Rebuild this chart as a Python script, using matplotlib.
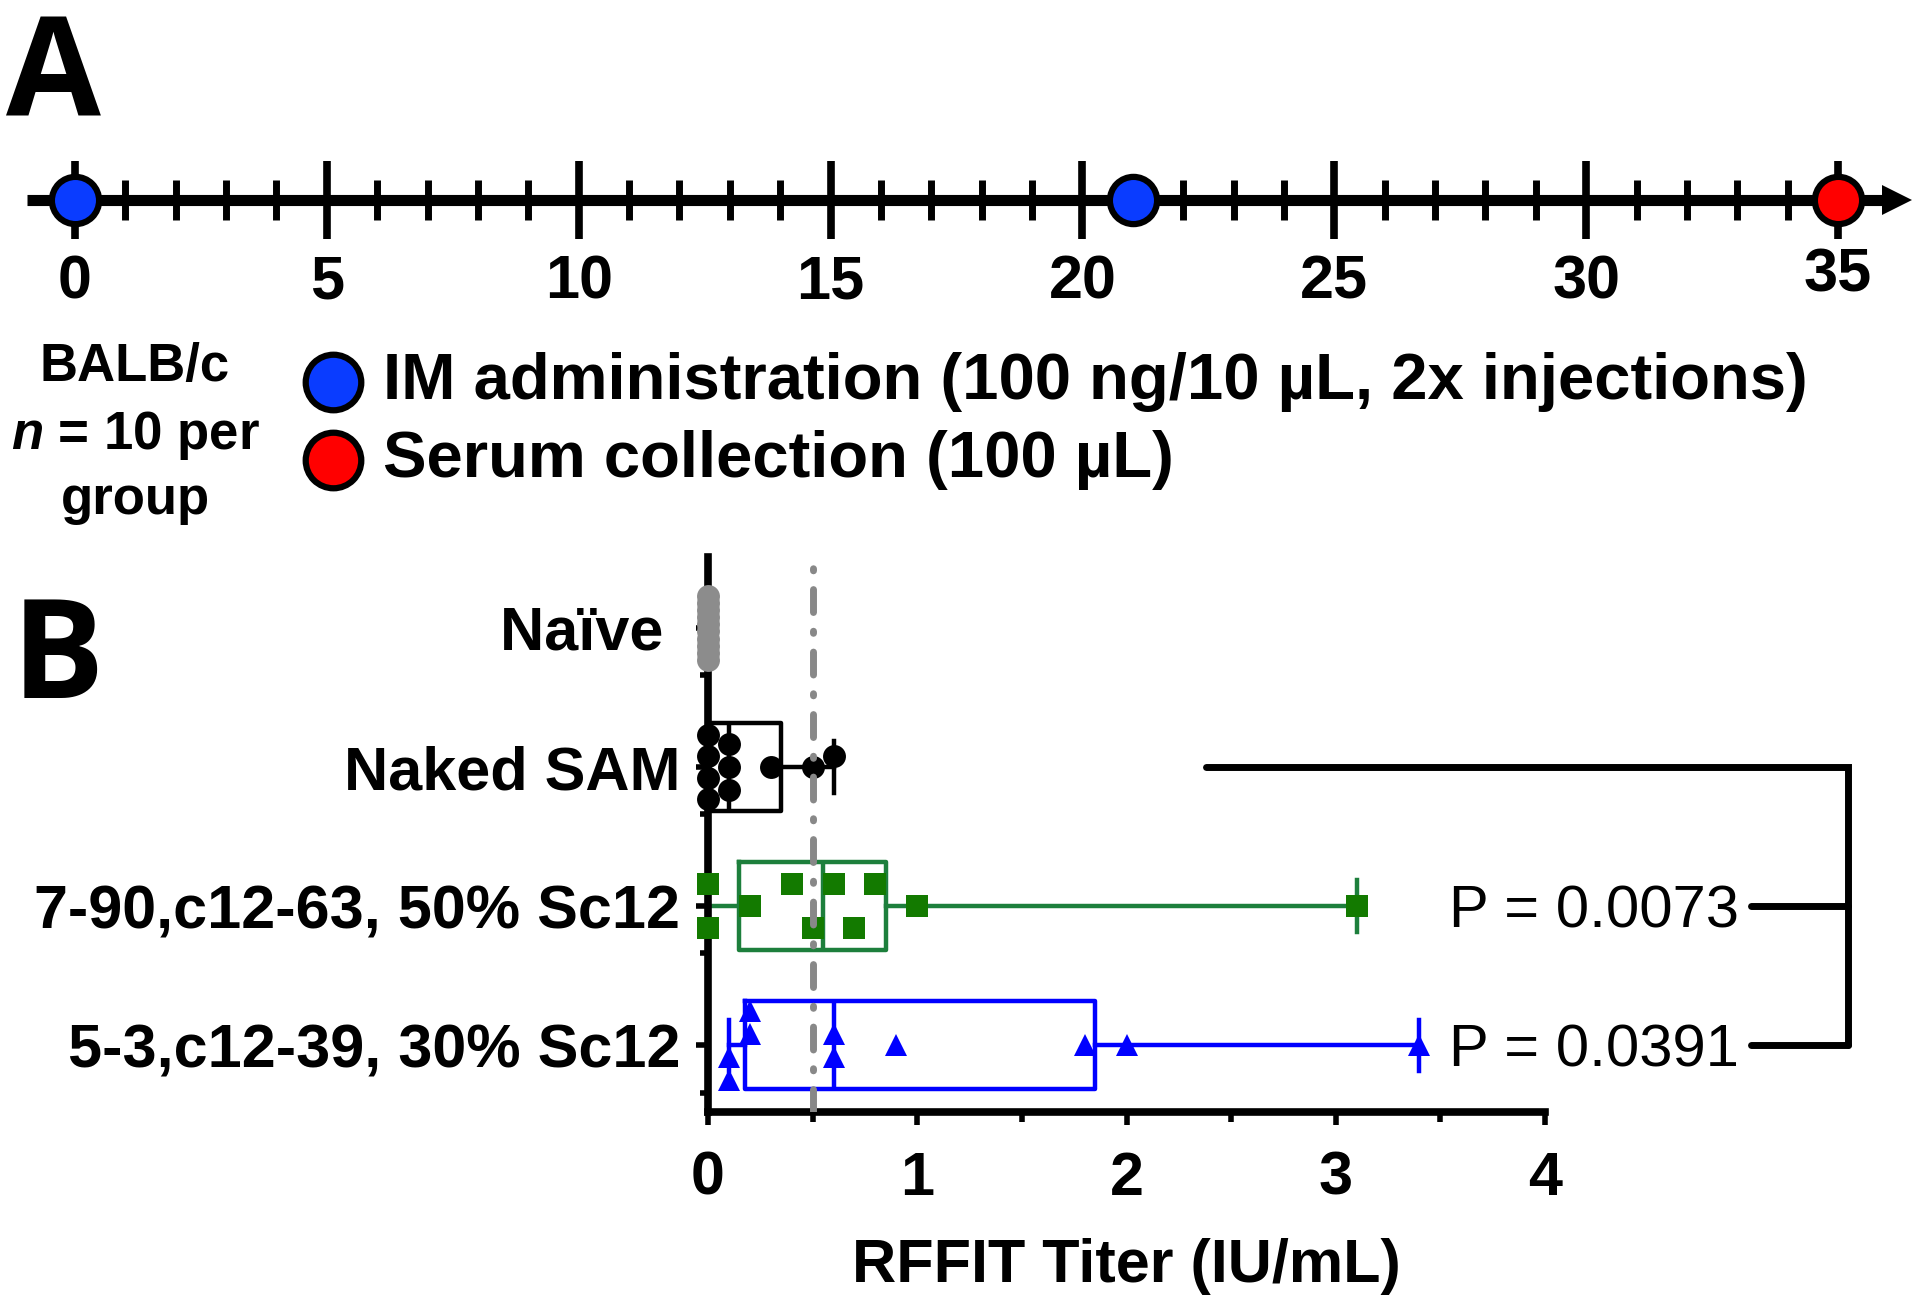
import numpy as np
import matplotlib
matplotlib.use('Agg')
import matplotlib.pyplot as plt

plt.rcParams['font.family'] = ['Liberation Sans', 'DejaVu Sans']
plt.rcParams['font.weight'] = 'bold'
plt.rcParams['mathtext.fontset'] = 'custom'
plt.rcParams['mathtext.it'] = 'Liberation Sans:italic:bold'
plt.rcParams['mathtext.rm'] = 'Liberation Sans:bold'

# ---- panel A data (study timeline, days)
days = np.arange(0, 36)
major_days = np.arange(0, 36, 5)
im_days = [0, 21]
serum_days = [35]
im_label = 'IM administration (100 ng/10 µL, 2x injections)'
serum_label = 'Serum collection (100 µL)'

# ---- panel B data (RFFIT titer, IU/mL)
groups = ['Naïve ', 'Naked SAM', '7-90,c12-63, 50% Sc12', '5-3,c12-39, 30% Sc12']
naive = [0, 0, 0, 0, 0, 0, 0, 0, 0, 0]
naked_sam = [0, 0, 0, 0, 0.1, 0.1, 0.1, 0.3, 0.5, 0.6]
sc12_50 = [0, 0, 0.2, 0.4, 0.5, 0.6, 0.7, 0.8, 1.0, 3.1]
sc12_30 = [0.1, 0.1, 0.2, 0.2, 0.6, 0.6, 0.9, 1.8, 2.0, 3.4]
lod = 0.5
p_labels = ['P = 0.0073', 'P = 0.0391']

series = [naive, naked_sam, sc12_50, sc12_30]
markers = ['o', 'o', 's', '^']
msizes = [16.5, 16.5, 15.5, 16.5]
mcolors = ['#8c8c8c', 'black', '#137a00', '#0000ff']
lcolors = ['#8c8c8c', 'black', '#1d7f3c', '#0000ff']
blue = '#0a3cff'
red = '#ff0000'

fig = plt.figure(figsize=(19.2, 13), dpi=100)

# overlay in pixel units for panel letters / legend
ov = fig.add_axes([0, 0, 1, 1])
ov.set_xlim(0, 1920)
ov.set_ylim(1300, 0)
ov.set_axis_off()

ov.text(6, 116, 'A', fontsize=99, family=['Open Sans', 'DejaVu Sans'],
        weight='bold', ha='left', va='baseline')
ov.text(12, 698, 'B', fontsize=99, family=['Open Sans', 'DejaVu Sans'],
        weight='bold', ha='left', va='baseline')

ov.text(135, 367, 'BALB/c', fontsize=38, ha='center', va='center')
ov.text(135, 435, r'$n$ = 10 per', fontsize=38, ha='center', va='center')
ov.text(135, 500, 'group', fontsize=38, ha='center', va='center')

for yy, col, lab in [(382, blue, im_label), (460, red, serum_label)]:
    ov.plot(333, yy, 'o', ms=40, mfc=col, mec='black', mew=4.5, clip_on=False)
    ov.text(383, yy, lab, fontsize=47, ha='left', va='center')

# ---- panel A: timeline
x0_px, x35_px = 75, 1838
ppd = (x35_px - x0_px) / 35
ax_a = fig.add_axes([0, 1 - 520 / 1300, 1, 520 / 1300])
ax_a.set_xlim(-x0_px / ppd, (1920 - x0_px) / ppd)
ax_a.set_ylim(520, 0)
ax_a.set_axis_off()

yl = 200
ax_a.plot([-0.95, 35.9], [yl, yl], color='black', lw=8, solid_capstyle='butt')
ax_a.plot(36.17, yl, marker='>', ms=22, color='black', mew=0)
minor_days = [d for d in days if d not in major_days]
ax_a.vlines(minor_days, yl - 20, yl + 20, color='black', lw=5)
ax_a.vlines(major_days, yl - 39, yl + 39, color='black', lw=5.5)
for d in major_days:
    ax_a.text(d, 283 if d < 35 else 276, str(d), fontsize=44,
              ha='center', va='center')
ax_a.plot(im_days, [yl] * len(im_days), 'o', ms=34, mfc=blue, mec='black',
          mew=4.5, ls='none', zorder=5)
ax_a.plot(serum_days, [yl] * len(serum_days), 'o', ms=34, mfc=red, mec='black',
          mew=4.5, ls='none', zorder=5)

# ---- panel B: box plots with points
left_px, right_px, bot_px, top_px = 708, 1545, 1112, 557
ax = fig.add_axes([left_px / 1920, 1 - bot_px / 1300,
                   (right_px - left_px) / 1920, (bot_px - top_px) / 1300])
ax.set_xlim(0, 4)
ax.set_ylim(3.48, -0.51)
for s in ['top', 'right']:
    ax.spines[s].set_visible(False)
for s in ['left', 'bottom']:
    ax.spines[s].set_linewidth(5.5)
    ax.spines[s].set_capstyle('projecting')

stats = []
for vals in series:
    v = np.asarray(vals, float)
    q1, med, q3 = np.percentile(v, [25, 50, 75], method='weibull')
    stats.append(dict(med=med, q1=q1, q3=q3, whislo=v.min(), whishi=v.max(),
                      fliers=[]))
art = ax.bxp(stats, positions=range(len(series)), widths=0.63, capwidths=0.37,
             orientation='horizontal', showfliers=False, manage_ticks=False,
             boxprops=dict(lw=3.2), whiskerprops=dict(lw=3.2),
             capprops=dict(lw=3.2), medianprops=dict(lw=3.2), zorder=2)
for i, c in enumerate(lcolors):
    art['boxes'][i].set_color(c)
    art['medians'][i].set_color(c)
    for k in (2 * i, 2 * i + 1):
        art['whiskers'][k].set_color(c)
        art['caps'][k].set_color(c)

pos = ax.get_position()
px_x = pos.width * 1920 / 4
px_y = pos.height * 1300 / abs(3.48 + 0.51)


def swarm(vals, dx=23.0, dy=23.0, rect=False, first=-1, max_half=32.0):
    # GraphPad-like scatter: stack equal values, dodge neighbours (pixel units)
    v = np.asarray(vals, float)
    out = np.zeros(len(v))
    placed = []

    def hit(p, q):
        ddx, ddy = abs(p[0] - q[0]), abs(p[1] - q[1])
        if rect:
            return ddx < dx * 0.98 and ddy < dy * 0.98
        return np.hypot(ddx / dx, ddy / dy) < 0.98

    uniq, counts = np.unique(v, return_counts=True)
    for u, k in zip(uniq, counts):
        step = dy if k == 1 or (k - 1) * dy / 2 <= max_half else 2 * max_half / (k - 1)
        base = (np.arange(k) - (k - 1) / 2) * step
        x = u * px_x
        shifts = [0.0]
        for m in range(1, 12):
            shifts += [first * m * dy / 2, -first * m * dy / 2]
        for sh in shifts:
            ys = base + sh
            if not any(hit((x, y), q) for y in ys for q in placed):
                break
        placed += [(x, y) for y in ys]
        out[v == u] = ys
    # centre chains of touching columns that hold 3+ points
    chain = [uniq[0]]
    for a in list(uniq[1:]) + [None]:
        if a is not None and (a - chain[-1]) * px_x < dx:
            chain.append(a)
            continue
        m = np.isin(v, chain)
        if m.sum() >= 3:
            out[m] -= (out[m].max() + out[m].min()) / 2
        chain = [a]
    return out / px_y


swarm_args = [dict(), dict(), dict(dx=22, dy=44, rect=True, first=1),
              dict(dx=22, dy=23, rect=True, first=-1)]
for i, vals in enumerate(series):
    ax.plot(vals, i + swarm(vals, **swarm_args[i]), ls='none', marker=markers[i],
            ms=msizes[i], mfc=mcolors[i], mec=mcolors[i],
            mew=0, zorder=3, clip_on=False)

ax.axvline(lod, color='#888888', lw=5, dashes=(3.3, 2.7, 0.3, 2.7),
           dash_capstyle='round', zorder=4)

ax.set_xticks(range(5))
ax.set_xticks(np.arange(0.5, 4, 1), minor=True)
ax.set_xticklabels([str(t) for t in range(5)], fontsize=44)
ax.tick_params(axis='x', which='major', length=9, width=4, pad=19, direction='out')
ax.tick_params(axis='x', which='minor', length=7, width=4)
ax.set_yticks(range(len(groups)))
ax.set_yticks(np.arange(len(groups)) + 0.34, minor=True)
ax.set_yticklabels(groups, fontsize=44)
ax.tick_params(axis='y', which='major', length=9, width=4, pad=11)
ax.tick_params(axis='y', which='minor', length=6, width=4)
ax.set_xlabel('RFFIT Titer (IU/mL)', fontsize=44, weight='bold', labelpad=22)

# significance bracket
bx_left, bx_right, bx_tick = 2.38, 5.45, 4.985
ax.plot([bx_left, bx_right, bx_right], [1, 1, 3], color='black', lw=5,
        solid_capstyle='round', solid_joinstyle='miter', clip_on=False)
for yy in (2, 3):
    ax.plot([bx_tick, bx_right], [yy, yy], color='black', lw=5,
            solid_capstyle='round', clip_on=False)
for yy, lab in zip((2, 3), p_labels):
    ax.text(3.54, yy, lab, fontsize=43, weight='normal', ha='left',
            va='center_baseline', clip_on=False)

fig.savefig('out.png', dpi=100)
